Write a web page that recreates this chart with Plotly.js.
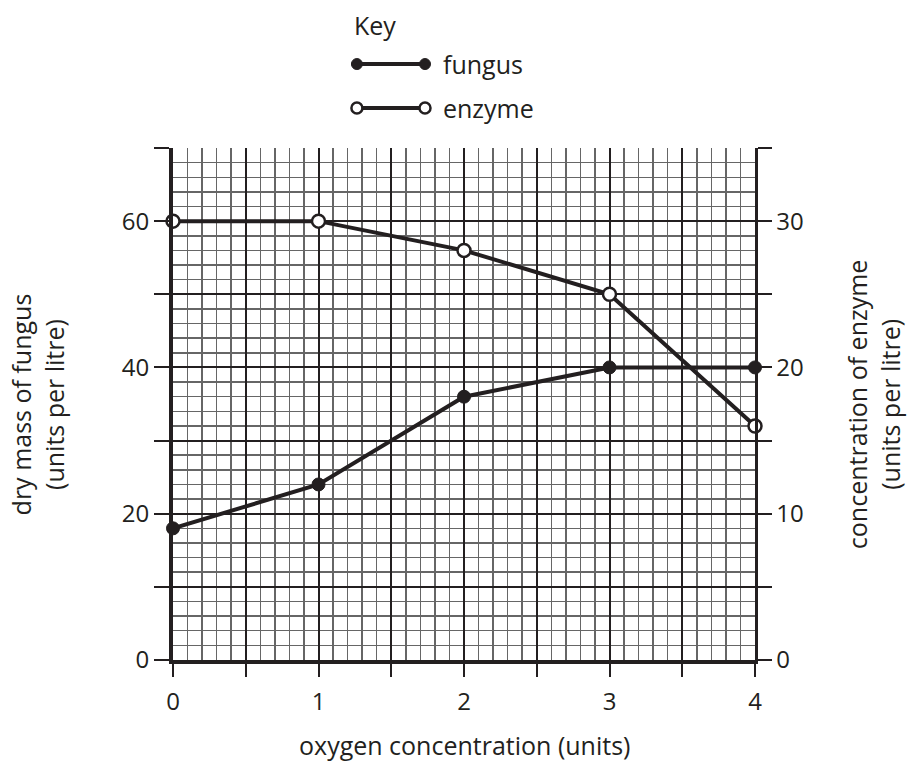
<!DOCTYPE html>
<html>
<head>
<meta charset="utf-8">
<script src="https://cdn.plot.ly/plotly-3.0.1.min.js"></script>
<style>html,body{margin:0;padding:0;background:#fff;}#chart{width:908px;height:770px;}</style>
</head>
<body>
<div id="chart"></div>
<script>
// Data
const oxygen = [0, 1, 2, 3, 4];
const fungusMass = [18, 24, 36, 40, 40];       // left axis: dry mass of fungus
const enzymeConc = [30, 30, 28, 25, 16];       // right axis: concentration of enzyme

const xTickVals = [0, 0.5, 1, 1.5, 2, 2.5, 3, 3.5, 4];
const xTickText = ['0', '', '1', '', '2', '', '3', '', '4'];
const yLeftTickVals = [0, 10, 20, 30, 40, 50, 60, 70];
const yLeftTickText = ['0', '', '20', '', '40', '', '60', ''];
const yRightTickVals = [0, 5, 10, 15, 20, 25, 30, 35];
const yRightTickText = ['0', '', '10', '', '20', '', '30', ''];

const FONT = '"Open Sans", "DejaVu Sans", sans-serif';
const INK = '#231f20';
const FS = 24;
const TFS = 25;

const traces = [
  {
    x: oxygen, y: fungusMass, name: 'fungus', type: 'scatter', mode: 'lines+markers',
    line: {color: INK, width: 4},
    marker: {color: INK, size: 13, line: {color: INK, width: 1}},
    cliponaxis: false, xaxis: 'x', yaxis: 'y', showlegend: false
  },
  {
    x: oxygen, y: enzymeConc, name: 'enzyme', type: 'scatter', mode: 'lines+markers',
    line: {color: INK, width: 4},
    marker: {color: '#ffffff', size: 13, line: {color: INK, width: 2.5}},
    cliponaxis: false, xaxis: 'x', yaxis: 'y2', showlegend: false
  }
];

// Legend geometry (paper coordinates)
const legX0 = 0.316, legX1 = 0.433, legY1 = 1.164, legY2 = 1.078, legTextX = 0.460;
function dot(x, y, filled) {
  return {type: 'circle', xref: 'paper', yref: 'paper', xsizemode: 'pixel', ysizemode: 'pixel',
    xanchor: x, yanchor: y, x0: -5.5, x1: 5.5, y0: -5.5, y1: 5.5,
    fillcolor: filled ? INK : '#ffffff', line: {color: INK, width: filled ? 1 : 2.5}, layer: 'above'};
}
const shapes = [
  {type: 'line', xref: 'paper', yref: 'paper', x0: legX0, x1: legX1, y0: legY1, y1: legY1, line: {color: INK, width: 4}},
  {type: 'line', xref: 'paper', yref: 'paper', x0: legX0, x1: legX1, y0: legY2, y1: legY2, line: {color: INK, width: 4}},
  dot(legX0, legY1, true), dot(legX1, legY1, true),
  dot(legX0, legY2, false), dot(legX1, legY2, false)
];

const annotations = [
  {text: 'Key', xref: 'paper', yref: 'paper', x: 0.308, y: 1.240, xanchor: 'left', yanchor: 'middle', showarrow: false, font: {size: TFS, color: INK, family: FONT}},
  {text: 'fungus', xref: 'paper', yref: 'paper', x: legTextX, y: legY1, xanchor: 'left', yanchor: 'middle', showarrow: false, font: {size: TFS, color: INK, family: FONT}},
  {text: 'enzyme', xref: 'paper', yref: 'paper', x: legTextX, y: legY2, xanchor: 'left', yanchor: 'middle', showarrow: false, font: {size: TFS, color: INK, family: FONT}},
  {text: 'dry mass of fungus<br>(units per litre)', xref: 'paper', yref: 'paper', x: -0.233, y: 0.5, xanchor: 'center', yanchor: 'middle', textangle: -90, showarrow: false, font: {size: TFS, color: INK, family: FONT}},
  {text: 'concentration of enzyme<br>(units per litre)', xref: 'paper', yref: 'paper', x: 1.203, y: 0.5, xanchor: 'center', yanchor: 'middle', textangle: -90, showarrow: false, font: {size: TFS, color: INK, family: FONT}},
  {text: 'oxygen concentration (units)', xref: 'paper', yref: 'paper', x: 0.5, y: -0.166, xanchor: 'center', yanchor: 'middle', showarrow: false, font: {size: TFS, color: INK, family: FONT}}
];

const layout = {
  width: 908, height: 770,
  margin: {l: 173, r: 153, t: 148, b: 110, pad: 0},
  paper_bgcolor: '#ffffff', plot_bgcolor: '#ffffff',
  font: {family: FONT, size: FS, color: INK},
  showlegend: false,
  xaxis: {
    range: [0, 4], tickmode: 'array', tickvals: xTickVals, ticktext: xTickText,
    ticks: 'outside', ticklen: 13, tickwidth: 2, tickcolor: INK, ticklabelstandoff: 4,
    showgrid: true, gridcolor: INK, gridwidth: 2,
    minor: {tick0: 0, dtick: 0.1, showgrid: true, gridcolor: '#666666', gridwidth: 1.5, ticks: ''},
    showline: true, linecolor: INK, linewidth: 4, mirror: false,
    zeroline: false, fixedrange: true, tickfont: {size: FS, family: FONT, color: INK}
  },
  yaxis: {
    range: [0, 70], tickmode: 'array', tickvals: yLeftTickVals, ticktext: yLeftTickText,
    ticks: 'outside', ticklen: 15, tickwidth: 2, tickcolor: INK,
    showgrid: true, gridcolor: INK, gridwidth: 2,
    minor: {tick0: 0, dtick: 2, showgrid: true, gridcolor: '#666666', gridwidth: 1.5, ticks: ''},
    showline: true, linecolor: INK, linewidth: 4,
    zeroline: false, fixedrange: true, tickfont: {size: FS, family: FONT, color: INK}
  },
  yaxis2: {
    range: [0, 35], overlaying: 'y', side: 'right', anchor: 'x',
    tickmode: 'array', tickvals: yRightTickVals, ticktext: yRightTickText,
    ticks: 'outside', ticklen: 14, tickwidth: 2, tickcolor: INK,
    showgrid: false, showline: true, linecolor: INK, linewidth: 2.5,
    zeroline: false, fixedrange: true, tickfont: {size: FS, family: FONT, color: INK}
  },
  shapes: shapes,
  annotations: annotations
};

Plotly.newPlot('chart', traces, layout, {displayModeBar: false, staticPlot: true});
</script>
</body>
</html>
